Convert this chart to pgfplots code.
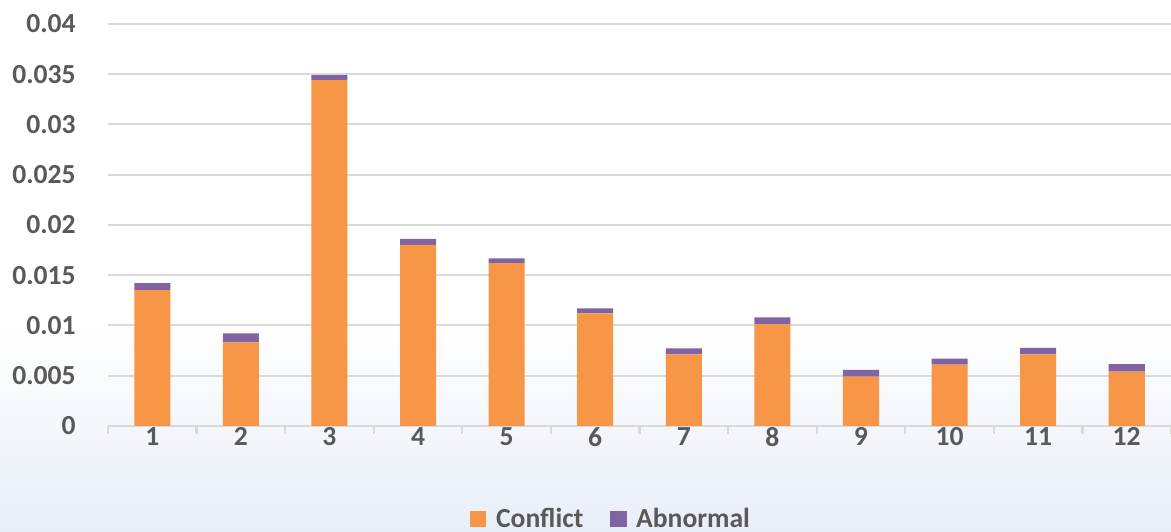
\documentclass[border=0pt]{standalone}
\usepackage{pgfplots}
\pgfplotsset{compat=1.18}
\usepackage{fontspec}
\setmainfont{Carlito}
\definecolor{conflict}{HTML}{F79646}
\definecolor{abnormal}{HTML}{8064A2}
\definecolor{txt}{HTML}{595959}
\definecolor{gridc}{HTML}{D9D9D9}
\definecolor{bgblue}{HTML}{E8EEF8}

\begin{document}
\begin{tikzpicture}[x=1pt,y=1pt]
\fill[white] (0,0) rectangle (607.2,275.8);
\shade[top color=white, bottom color=bgblue] (0,0) rectangle (607.2,108);
\begin{axis}[
  at={(56pt,55pt)}, anchor=south west,
  scale only axis, width=551.2pt, height=208.4pt,
  ybar stacked, bar width=18.7pt,
  xmin=0.5, xmax=12.5, ymin=0, ymax=0.04,
  xtick={1,...,12},
  minor xtick={0.5,1.5,...,12.5},
  xtick pos=bottom, tick align=outside,
  major x tick style={draw=none},
  minor x tick style={gridc, line width=1.2pt},
  minor tick length=4.2pt,
  ytick={0,0.005,...,0.04},
  scaled y ticks=false,
  yticklabels={0,0.005,0.01,0.015,0.02,0.025,0.03,0.035,0.04},
  ytick style={draw=none},
  axis line style={draw=none},
  ymajorgrids, grid style={gridc, line width=1pt},
  tick label style={font=\bfseries\fontsize{14.3}{16}\selectfont, text=txt},
  /pgf/number format/assume math mode=true,
  yticklabel style={xshift=-9pt},
  xticklabel style={yshift=7pt},
  legend style={draw=none, fill=none, at={(0.335,-0.232)}, anchor=west,
    legend columns=-1, font=\bfseries\fontsize{14.3}{16}\selectfont, text=txt,
    /tikz/every odd column/.append style={column sep=3pt},
    /tikz/every even column/.append style={column sep=12pt}},
  legend image code/.code={\fill[#1] (0pt,-4.2pt) rectangle (8.4pt,4.2pt);},
]
\addplot[fill=conflict, draw=none] coordinates {
  (1,0.0135) (2,0.0083) (3,0.0344) (4,0.0180) (5,0.0162) (6,0.0112)
  (7,0.0071) (8,0.0101) (9,0.0049) (10,0.0061) (11,0.0071) (12,0.0054)};
\addplot[fill=abnormal, draw=none] coordinates {
  (1,0.0007) (2,0.0009) (3,0.0005) (4,0.0006) (5,0.00046) (6,0.0005)
  (7,0.0006) (8,0.0007) (9,0.00067) (10,0.0006) (11,0.00066) (12,0.00073)};
\legend{Conflict,Abnormal}
\end{axis}
\pgfresetboundingbox
\path (0,0) rectangle (607.2,275.8);
\end{tikzpicture}
\end{document}
